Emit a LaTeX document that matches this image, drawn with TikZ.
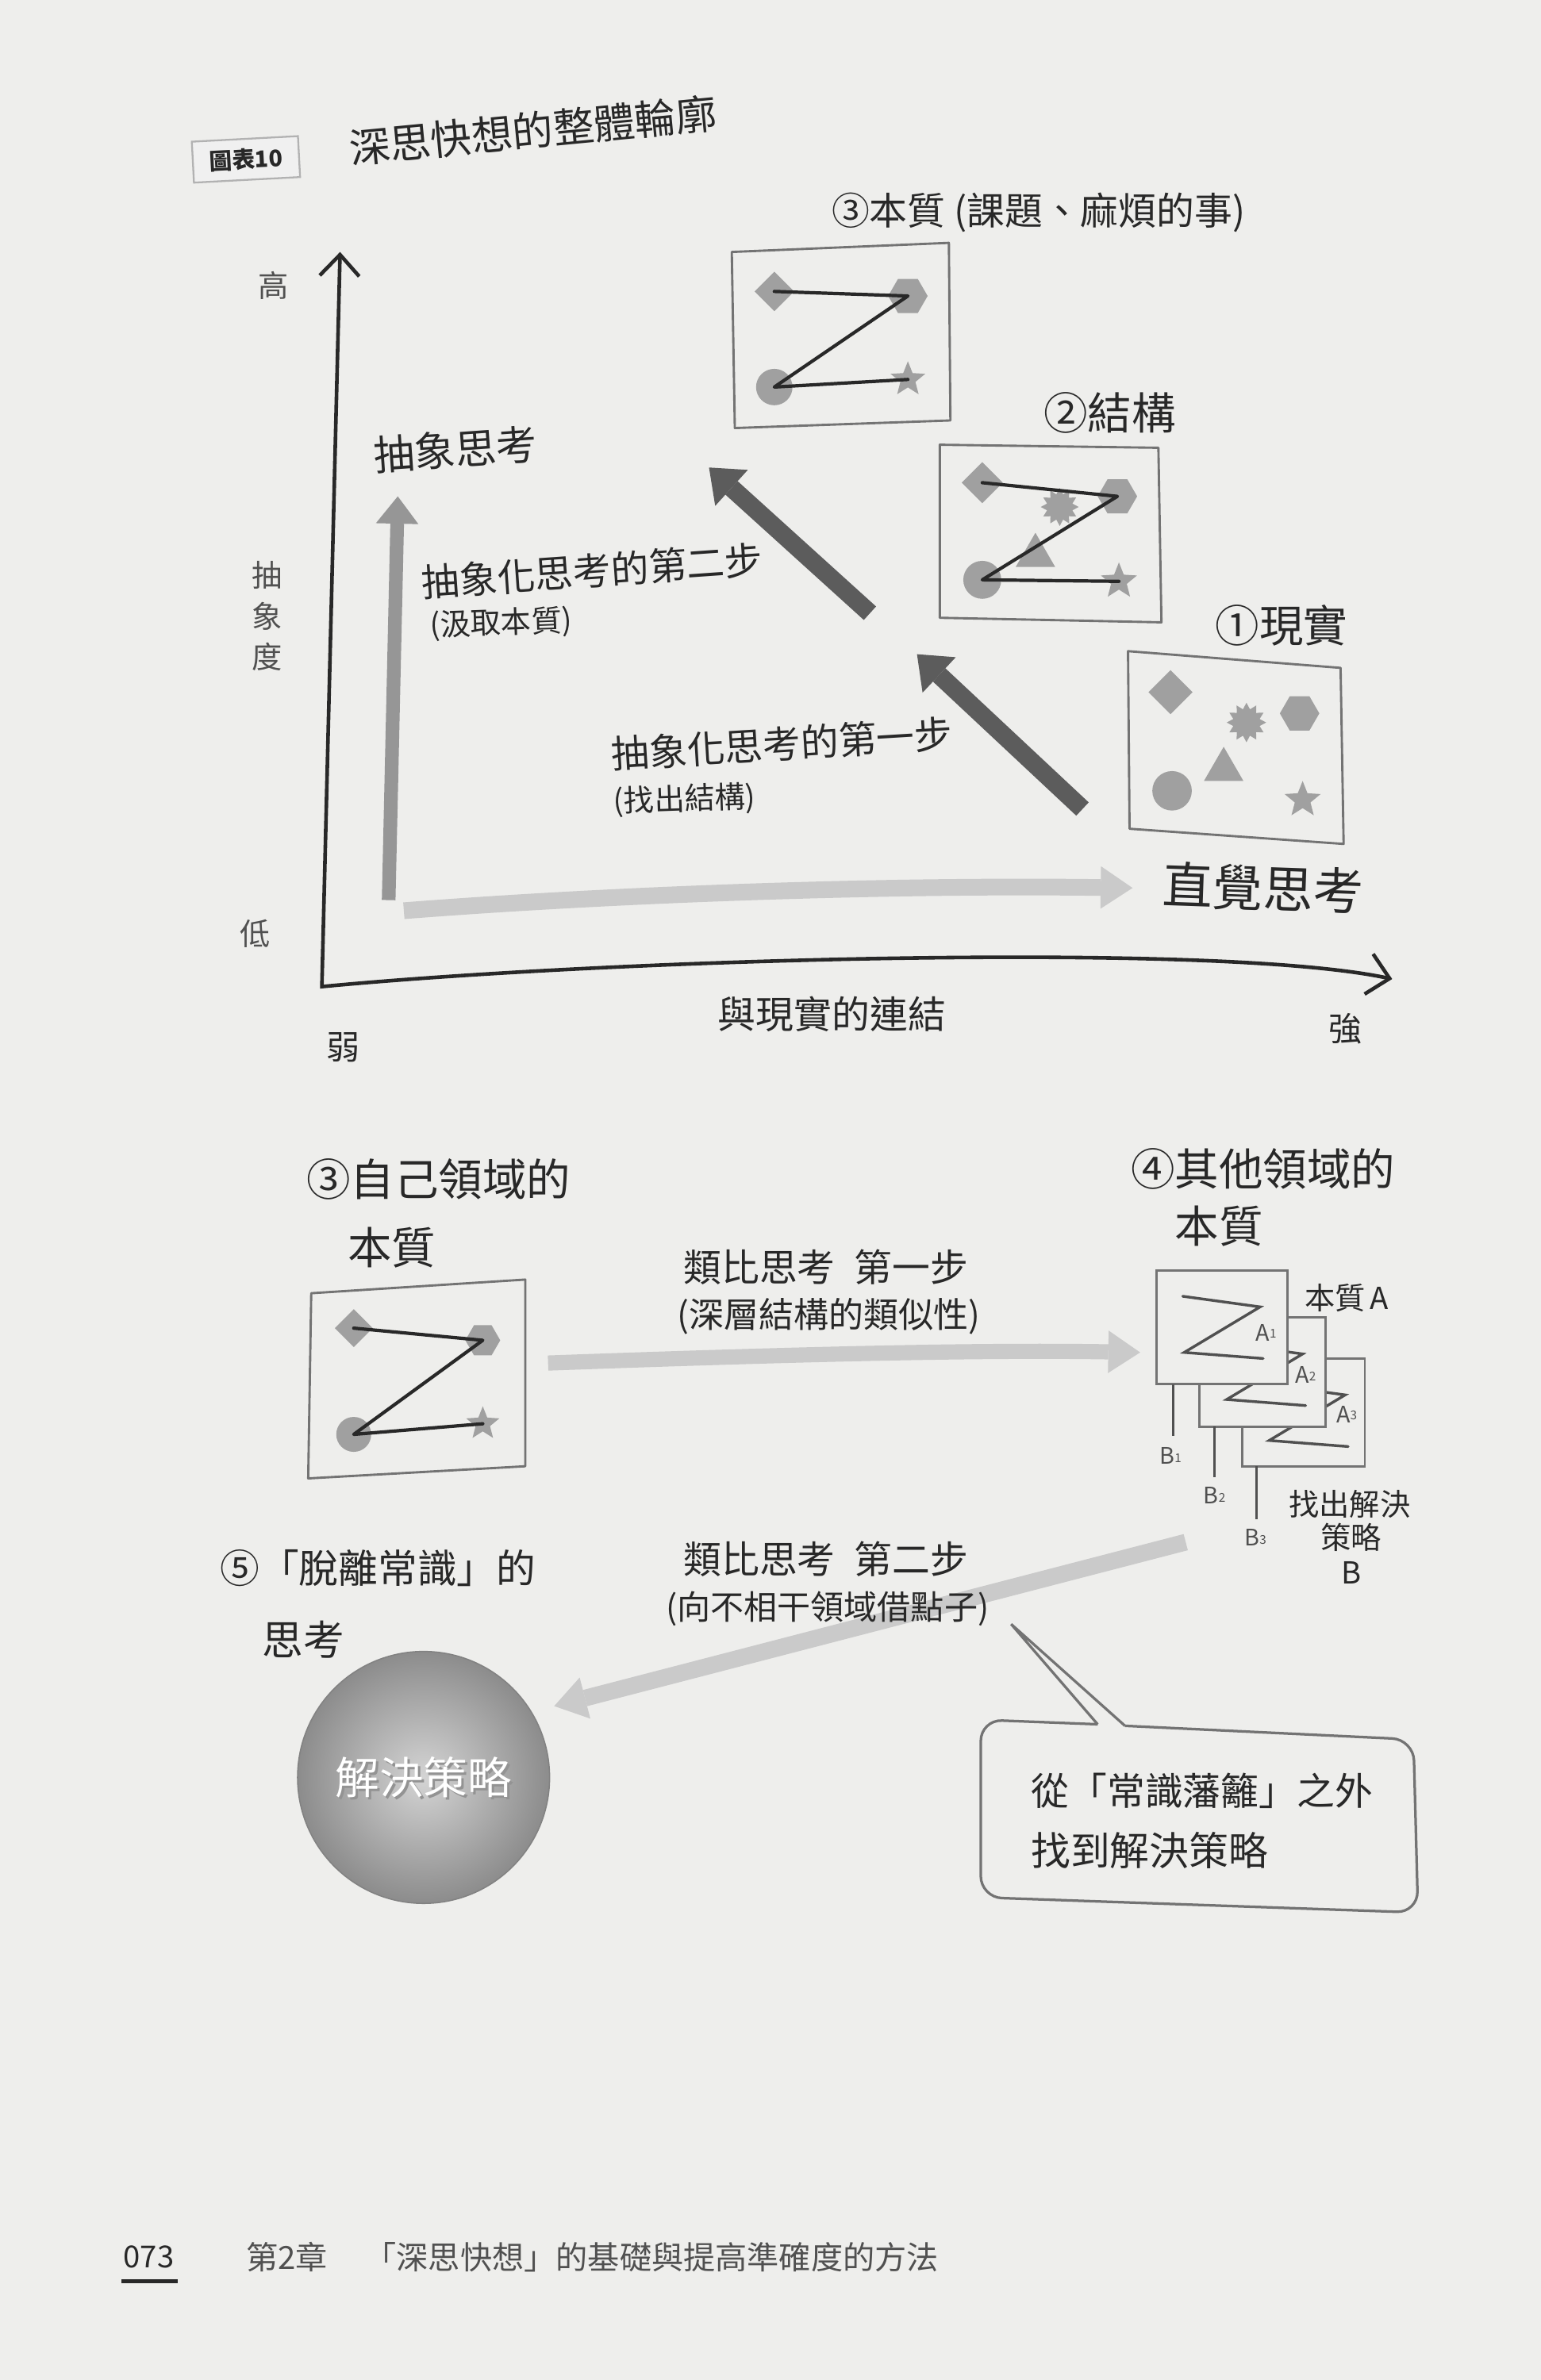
\documentclass[tikz,border=0pt]{standalone}
\usepackage{fontspec}
\setmainfont{Noto Sans CJK TC}
\usetikzlibrary{arrows.meta,shapes.geometric}
\definecolor{paper}{RGB}{238,238,236}
\definecolor{ink}{RGB}{40,40,40}
\definecolor{softink}{RGB}{80,80,80}
\definecolor{boxline}{RGB}{115,115,115}
\definecolor{shapefill}{RGB}{160,160,160}
\definecolor{darkarrow}{RGB}{92,92,92}
\definecolor{midarrow}{RGB}{150,150,150}
\definecolor{lightarrow}{RGB}{202,202,202}
\tikzset{
  lbl/.style={inner sep=0pt, text=ink, font=\fontsize{#1}{#1}\selectfont},
  slbl/.style={inner sep=0pt, text=softink, font=\fontsize{#1}{#1}\selectfont},
  framebox/.style={draw=boxline, line width=1.5pt, line join=round},
  zline/.style={draw=ink, line width=2.2pt, line cap=round, line join=round},
  cardz/.style={draw=softink, line width=1.8pt, line cap=round},
  card/.style={draw=boxline, line width=1.5pt, fill=paper},
  shp/.style={fill=shapefill, draw=none, inner sep=0pt, outer sep=0pt},
  dia/.style={shp, diamond, minimum width=#1, minimum height=#1},
  hexa/.style={shp, regular polygon, regular polygon sides=6, minimum size=#1},
  tri/.style={shp, regular polygon, regular polygon sides=3, minimum size=#1},
  circ/.style={shp, circle, minimum size=#1},
  starsh/.style={shp, star, star points=5, star point ratio=2.3, minimum size=#1},
  sunsh/.style={shp, star, star points=12, star point ratio=1.45, minimum size=#1},
  axisline/.style={draw=ink, line width=2.4pt, line join=miter,
     {Straight Barb[length=14pt,width=26pt]}-{Straight Barb[length=14pt,width=27pt]}},
  darkarr/.style={draw=darkarrow, line width=12pt, -{Triangle[length=20pt,width=32pt,line width=0pt]}},
  midarr/.style={draw=midarrow, line width=9pt, -{Triangle[length=18pt,width=28pt,line width=0pt]}},
  lightarr/.style={draw=lightarrow, line width=11pt, -{Triangle[length=21pt,width=28pt,line width=0pt]}},
  bubble/.style={draw=boxline, line width=1.7pt},
  bline/.style={draw=softink, line width=1.5pt}
}
\begin{document}
\begin{tikzpicture}[x=1pt,y=-1pt]
\fill[paper] (0,0) rectangle (1015,1568);
\useasboundingbox (0,0) rectangle (1015,1568);

% ---------- title ----------
\node (tag) [draw=gray!60, line width=1.2pt, fill=gray!12, rotate=3, minimum width=70pt, minimum height=27pt, inner sep=0pt,
  text=ink, font=\fontsize{15}{15}\selectfont\bfseries] at (162,105) {圖表10};
\node (title) [lbl=27, rotate=5.5] at (351,86) {深思快想的整體輪廓};

% ---------- axes ----------
\coordinate (yt) at (224,166);
\coordinate (yb) at (212,650);
\coordinate (xe) at (917,645);
\draw[axisline] (yt) -- (yb) .. controls (400,632) and (800,620) .. (xe);
\node (hi) [slbl=20] at (180,188) {高};
\node (absdeg) [inner sep=0pt, text=softink, font=\fontsize{20}{27}\selectfont, align=center] at (176,406) {抽\\象\\度};
\node (lo) [slbl=20] at (168,615) {低};
\node (weak) [lbl=22] at (226,690) {弱};
\node (strong) [lbl=22] at (886,678) {強};
\node (xlabel) [lbl=25] at (548,668) {與現實的連結};

% ---------- big arrows (top) ----------
\coordinate (va0) at (256,593);
\coordinate (va1) at (262,327);
\draw[midarr] (va0) -- (va1);
\coordinate (ha0) at (266,600);
\coordinate (ha1) at (746,585);
\draw[lightarr] (ha0) .. controls (420,588) and (600,583) .. (ha1);
\coordinate (d1a) at (713,533);
\coordinate (d1b) at (604,431);
\draw[darkarr] (d1a) -- (d1b);
\coordinate (d2a) at (573,404);
\coordinate (d2b) at (467,308);
\draw[darkarr] (d2a) -- (d2b);

\node (abs) [lbl=27, rotate=4] at (300,296) {抽象思考};
\node (step2) [lbl=25, rotate=4] at (390,376) {抽象化思考的第二步};
\node (step2b) [lbl=20, rotate=2] at (330,411) {(汲取本質)};
\node (step1) [lbl=25, rotate=3.5] at (515,490) {抽象化思考的第一步};
\node (step1b) [lbl=20, rotate=2] at (451,527) {(找出結構)};
\node (intu) [lbl=33, rotate=-2] at (832,585) {直覺思考};

% ---------- box 3 (essence) ----------
\draw[framebox] (482,166) -- (625,160) -- (626,277) -- (484,282) -- cycle;
\node (lab3) [lbl=25] at (684,140) {③本質 (課題、麻煩的事)};
\node (d3) [dia=26] at (510,192) {};
\node (h3) [hexa=26] at (598,195) {};
\node (c3) [circ=24] at (510,255) {};
\node (s3) [starsh=24] at (598,250) {};
\draw[zline] (d3.center) -- (h3.center) -- (c3.center) -- (s3.center);

% ---------- box 2 (structure) ----------
\draw[framebox] (619,293) -- (763,295) -- (765,410) -- (619,407) -- cycle;
\node (lab2) [lbl=29] at (731,272) {②結構};
\node (d2) [dia=27] at (647,318) {};
\node (h2) [hexa=26] at (736,327) {};
\node (u2) [sunsh=25] at (698,334) {};
\node (t2) [tri=30] at (682,366) {};
\node (c2) [circ=25] at (647,382) {};
\node (s2) [starsh=25] at (737,383) {};
\draw[zline] (d2.center) -- (h2.center) -- (c2.center) -- (s2.center);

% ---------- box 1 (reality) ----------
\draw[framebox] (743,429) -- (883,440) -- (885,556) -- (744,546) -- cycle;
\node (lab1) [lbl=29] at (844,412) {①現實};
\node (d1) [dia=29] at (771,456) {};
\node (u1) [sunsh=26] at (821,476) {};
\node (h1) [hexa=26] at (856,470) {};
\node (t1) [tri=30] at (806,507) {};
\node (c1) [circ=26] at (772,521) {};
\node (s1) [starsh=25] at (858,527) {};

% ---------- bottom: own domain ----------
\node (own) [lbl=29] at (289,777) {③自己領域的};
\node (own2) [lbl=29] at (258,822) {本質};
\draw[framebox] (205,852) -- (346,843) -- (346,966) -- (203,974) -- cycle;
\node (d4) [dia=25] at (233,875) {};
\node (h4) [hexa=23] at (318,883) {};
\node (c4) [circ=23] at (233,945) {};
\node (s4) [starsh=23] at (318,938) {};
\draw[zline] (d4.center) -- (h4.center) -- (c4.center) -- (s4.center);

\coordinate (b1a) at (361,898);
\coordinate (b1b) at (751,891);
\draw[lightarr, line width=10pt] (b1a) .. controls (500,893) and (640,889) .. (b1b);
\node (an1) [lbl=25] at (544,835) {類比思考\hspace{0.5em}第一步};
\node (an1b) [lbl=23] at (546,867) {(深層結構的類似性)};

% ---------- other domain ----------
\node (oth) [lbl=29] at (832,770) {④其他領域的};
\node (oth2) [lbl=29] at (803,808) {本質};

% card 3
\draw[card] (818,895) rectangle (899,966);
\draw[cardz] (835,912) -- (886,919) -- (836,949) -- (888,953);
% card 2
\draw[card] (790,868) rectangle (873,940);
\draw[cardz] (807,885) -- (858,892) -- (808,922) -- (860,926);
% card 1
\draw[card] (762,837) rectangle (848,912);
\draw[cardz] (779,854) -- (830,861) -- (780,891) -- (832,895);
\node (a1) [slbl=15] at (834,878) {A\raisebox{2pt}{\fontsize{8}{8}\selectfont 1}};
\node (a2) [slbl=15] at (860,906) {A\raisebox{2pt}{\fontsize{8}{8}\selectfont 2}};
\node (a3) [slbl=15] at (887,932) {A\raisebox{2pt}{\fontsize{8}{8}\selectfont 3}};
\draw[bline] (772.6,912) -- (772.6,946);
\draw[bline] (800,940) -- (800,973);
\draw[bline] (827.5,966) -- (827.5,1001);
\node (bb1) [slbl=15] at (771,959) {B\raisebox{1pt}{\fontsize{8}{8}\selectfont 1}};
\node (bb2) [slbl=15] at (800,985) {B\raisebox{1pt}{\fontsize{8}{8}\selectfont 2}};
\node (bb3) [slbl=15] at (827,1013) {B\raisebox{1pt}{\fontsize{8}{8}\selectfont 3}};
\node (essA) [lbl=20] at (887,855) {本質\,A};
\node (find1) [lbl=20] at (889,991) {找出解決};
\node (find2) [lbl=20] at (890,1013) {策略};
\node (find3) [lbl=20] at (890,1036) {B};

% ---------- second analogy step ----------
\coordinate (b2a) at (781,1016);
\coordinate (b2b) at (365,1124);
\draw[lightarr] (b2a) -- (b2b);
\node (an2) [lbl=25] at (544,1027) {類比思考\hspace{0.5em}第二步};
\node (an2b) [lbl=22] at (545,1060) {(向不相干領域借點子)};

\node (out) [lbl=26] at (249,1033) {⑤「脫離常識」的};
\node (out2) [lbl=27] at (200,1080) {思考};

\node (ball) [circle, minimum size=166pt, inner sep=0pt, inner color={rgb,255:red,212;green,212;blue,212},
   outer color={rgb,255:red,140;green,140;blue,140}, draw={rgb,255:red,130;green,130;blue,130}, line width=0.8pt] at (279,1171) {};
\node (ballsh) [inner sep=0pt, text=gray!85, font=\fontsize{29}{29}\selectfont] at (280.5,1172.5) {解決策略};
\node (balltx) [inner sep=0pt, text=white, font=\fontsize{29}{29}\selectfont] at (279,1171) {解決策略};

% ---------- speech bubble ----------
\coordinate (pl) at (723,1136);
\coordinate (pr) at (741,1137);
\coordinate (ptip) at (666,1070);
\draw[bubble, rounded corners=14pt] (pr) -- (931,1146) -- (934,1260) -- (646,1250) -- (646,1133) -- (pl);
\draw[bubble, line join=miter] (pl) -- (ptip) -- (pr);
\node (bt1) [lbl=25, anchor=west] at (679,1180) {從「常識藩籬」之外};
\node (bt2) [lbl=26, anchor=west] at (679,1219) {找到解決策略};

% ---------- footer ----------
\node (pg) [inner sep=0pt, text=ink, font=\fontsize{20}{20}\selectfont] at (98,1487) {073};
\draw[draw=ink, line width=2.5pt] (80,1503) -- (117,1503);
\node (ch) [inner sep=0pt, text=softink, font=\fontsize{21}{21}\selectfont, anchor=west] at (162,1487) {第2章};
\node (chtitle) [inner sep=0pt, text=softink, font=\fontsize{21}{21}\selectfont, anchor=west] at (240,1487) {「深思快想」的基礎與提高準確度的方法};
\end{tikzpicture}
\end{document}
